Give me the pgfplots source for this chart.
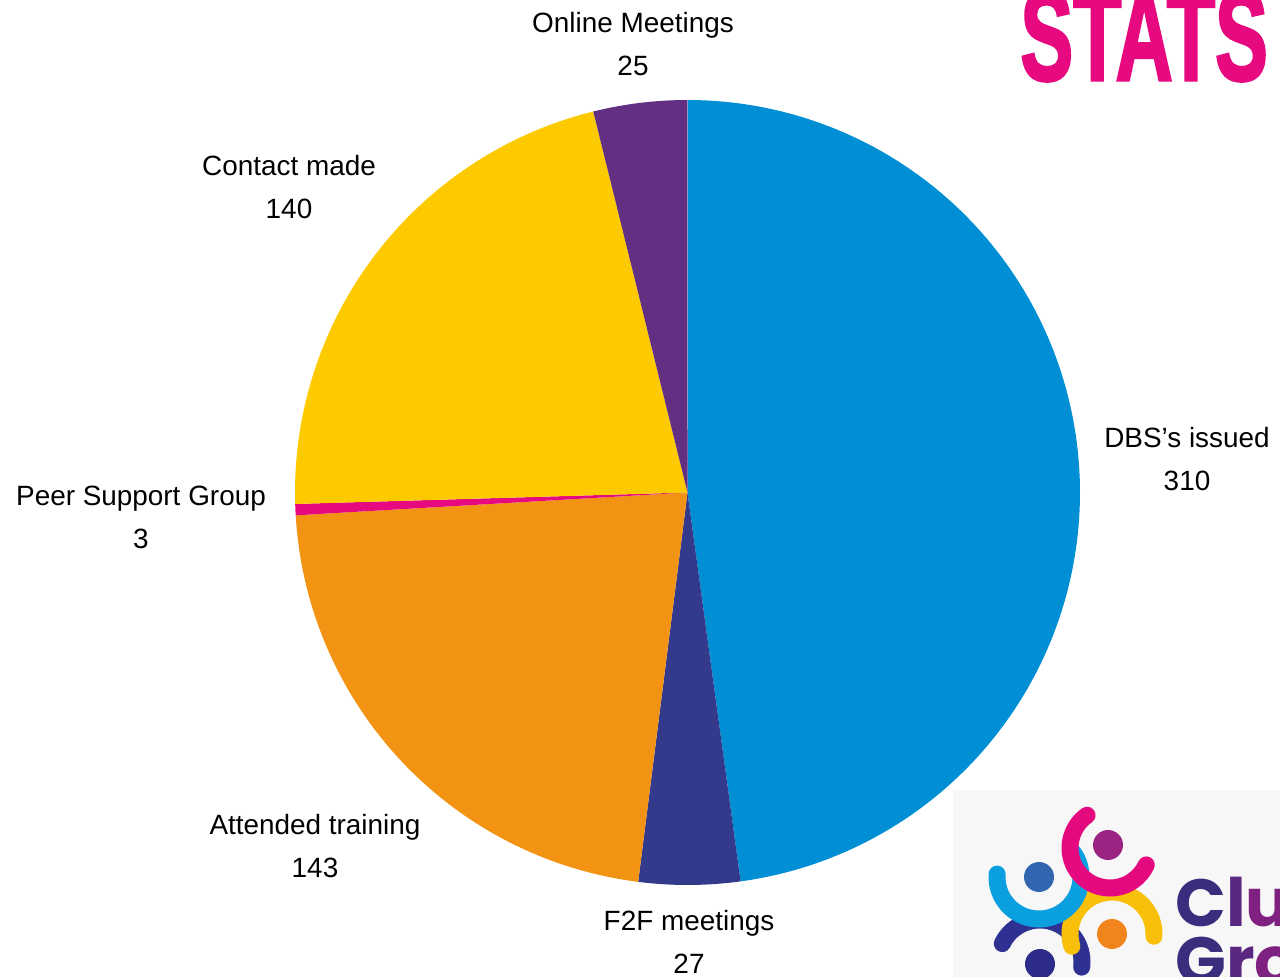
\documentclass[border=0pt]{standalone}
\usepackage{fontspec}
\setmainfont{Liberation Sans}
\newfontfamily\logofont{Poppins}
\newfontfamily\statsfont{Liberation Sans}[FakeBold=2.5]
\usepackage{pgfplots}
\pgfplotsset{compat=1.18}
\definecolor{cDBS}{HTML}{008FD5}
\definecolor{cFTF}{HTML}{333A8C}
\definecolor{cATT}{HTML}{F39314}
\definecolor{cPEER}{HTML}{E6097F}
\definecolor{cCON}{HTML}{FDCA00}
\definecolor{cONL}{HTML}{622F82}
\definecolor{cStats}{HTML}{E6097F}
\definecolor{lgPink}{HTML}{E4097E}
\definecolor{lgLBlue}{HTML}{0AA0DF}
\definecolor{lgYellow}{HTML}{F9C00B}
\definecolor{lgDBlue}{HTML}{2E3192}
\definecolor{lgPurple}{HTML}{9B2482}
\definecolor{lgBlue}{HTML}{3366B0}
\definecolor{lgOrange}{HTML}{F0841D}
\definecolor{lgNavy}{HTML}{2E2C8A}
\definecolor{tA}{HTML}{3B2C7D}
\definecolor{tB}{HTML}{5A2880}
\definecolor{tC}{HTML}{7E2181}
\definecolor{tD}{HTML}{9B1B80}
% values
\def\vDBS{310}\def\vFTF{27}\def\vATT{143}\def\vPEER{3}\def\vCON{140}\def\vONL{25}
\def\R{392.5}
\begin{document}
\begin{tikzpicture}
\pgfmathsetmacro\tot{\vDBS+\vFTF+\vATT+\vPEER+\vCON+\vONL}
\pgfmathsetmacro\aA{90}
\pgfmathsetmacro\aB{\aA-\vDBS/\tot*360}
\pgfmathsetmacro\aC{\aB-\vFTF/\tot*360}
\pgfmathsetmacro\aD{\aC-\vATT/\tot*360}
\pgfmathsetmacro\aE{\aD-\vPEER/\tot*360}
\pgfmathsetmacro\aF{\aE-\vCON/\tot*360}
\pgfmathsetmacro\aG{\aF-\vONL/\tot*360}
\begin{axis}[
  at={(0,0)}, anchor=south west,
  width=640bp, height=488.5bp, scale only axis,
  hide axis, clip=false,
  xmin=-687.5, xmax=592.5, ymin=-484.5, ymax=492.5,
]
\addplot[fill=cDBS, draw=none, data cs=polar, domain=\aB:\aA, samples=150] {\R} -- (axis cs:0,0) -- cycle;
\addplot[fill=cFTF, draw=none, data cs=polar, domain=\aC:\aB, samples=20] {\R} -- (axis cs:0,0) -- cycle;
\addplot[fill=cATT, draw=none, data cs=polar, domain=\aD:\aC, samples=80] {\R} -- (axis cs:0,0) -- cycle;
\addplot[fill=cPEER, draw=none, data cs=polar, domain=\aE:\aD, samples=4] {\R} -- (axis cs:0,0) -- cycle;
\addplot[fill=cCON, draw=none, data cs=polar, domain=\aF:\aE, samples=80] {\R} -- (axis cs:0,0) -- cycle;
\addplot[fill=cONL, draw=none, data cs=polar, domain=\aG:\aF, samples=20] {\R} -- (axis cs:0,0) -- cycle;
% labels
\tikzset{lab/.style={align=center, font=\fontsize{14}{21.5}\selectfont, inner sep=0pt}}
\node[lab] at (axis cs:-54.5,448.5) {Online Meetings\\25};
\node[lab] at (axis cs:499.5,33.5) {DBS's issued\\310};
\node[lab] at (axis cs:-398.5,305.5) {Contact made\\140};
\node[lab] at (axis cs:-546.5,-24.5) {Peer Support Group\\3};
\node[lab] at (axis cs:-372.5,-353.5) {Attended training\\143};
\node[lab] at (axis cs:1.5,-449.5) {F2F meetings\\27};
% title
\node[anchor=base west, inner sep=0pt, text=cStats] at (axis cs:332.5,412.5)
  {\scalebox{0.62}[1]{\statsfont\bfseries\fontsize{64}{64}\selectfont STATS}};
% logo
\fill[black!3] (axis cs:265.5,-297.5) rectangle (axis cs:592.5,-484.5);
\begin{scope}[line width=8.5bp, line cap=round]
\draw[lgDBlue] ([shift={(154:21bp)}]axis cs:352.5,-469.5) arc[start angle=154, end angle=-7, radius=21bp];
\draw[lgYellow] ([shift={(197:21bp)}]axis cs:424.5,-441.5) arc[start angle=197, end angle=-3, radius=21bp];
\draw[lgLBlue] ([shift={(176:21bp)}]axis cs:351.5,-384.5) arc[start angle=176, end angle=396, radius=21bp];
\draw[lgPink] ([shift={(125:20bp)}]axis cs:422.5,-355.5) arc[start angle=125, end angle=335, radius=20bp];
\end{scope}
\fill[lgPurple] (axis cs:420.5,-352.5) circle[radius=7.5bp];
\fill[lgBlue] (axis cs:351.5,-384.5) circle[radius=7.5bp];
\fill[lgOrange] (axis cs:424.5,-441.5) circle[radius=7.5bp];
\fill[lgNavy] (axis cs:352.5,-471.5) circle[radius=7.5bp];
\node[anchor=base west, inner sep=0pt] at (axis cs:487.5,-434.5)
  {\logofont\bfseries\fontsize{33.5}{33.5}\selectfont\textcolor{tA}{C}\textcolor{tB}{l}\textcolor{tC}{u}\textcolor{tD}{b}};
\node[anchor=base west, inner sep=0pt] at (axis cs:487.5,-492.5)
  {\logofont\bfseries\fontsize{33.5}{33.5}\selectfont\textcolor{tA}{G}\textcolor{tB}{r}\textcolor{tC}{o}\textcolor{tD}{u}};
\end{axis}
\pgfresetboundingbox
\path[use as bounding box] (0,0) rectangle (640bp,488.5bp);
\end{tikzpicture}
\end{document}
